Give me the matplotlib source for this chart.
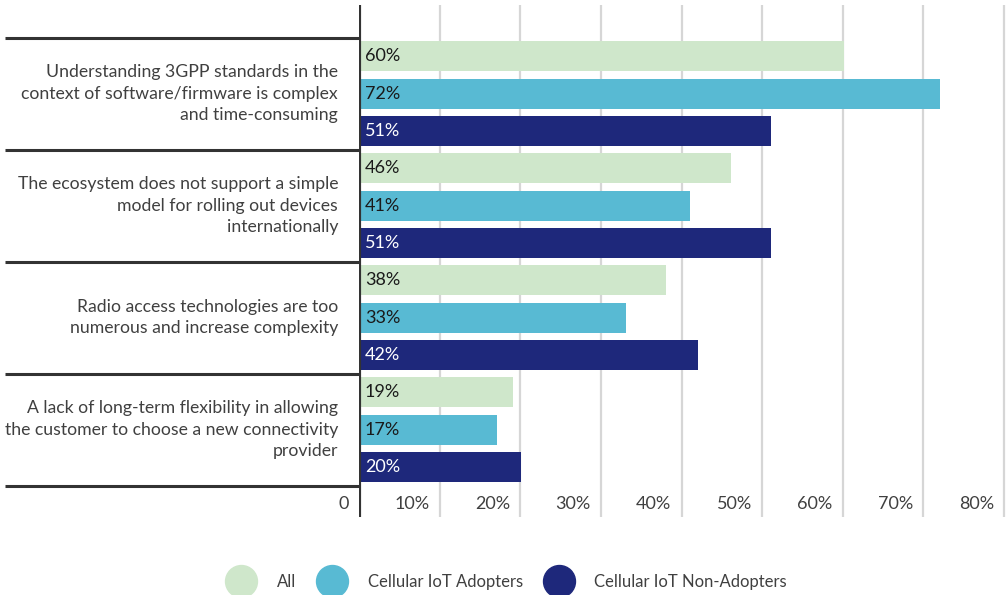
import matplotlib.pyplot as plt
from matplotlib.lines import Line2D
from matplotlib.transforms import offset_copy

plt.rcParams['font.family'] = ['Lato', 'DejaVu Sans']

categories = [
    'Understanding 3GPP standards in the\ncontext of software/firmware is complex\nand time-consuming',
    'The ecosystem does not support a simple\nmodel for rolling out devices\ninternationally',
    'Radio access technologies are too\nnumerous and increase complexity',
    'A lack of long-term flexibility in allowing\nthe customer to choose a new connectivity\nprovider',
]
series_names = ['All', 'Cellular IoT Adopters', 'Cellular IoT Non-Adopters']
all_vals = [60, 46, 38, 19]
adopters = [72, 41, 33, 17]
non_adopters = [51, 51, 42, 20]
xticks = [0, 10, 20, 30, 40, 50, 60, 70, 80]
xtick_labels = ['0', '10%', '20%', '30%', '40%', '50%', '60%', '70%', '80%']

colors = ['#cfe7cb', '#58bad3', '#1e287b']
label_colors = ['#1a1a1a', '#1a1a1a', '#ffffff']
text_gray = '#404040'

W, H = 1007, 595
fig = plt.figure(figsize=(W / 100, H / 100), dpi=100)
ax = fig.add_axes([359 / W, 1 - 517 / H, (1004 - 359) / W, (517 - 5) / H])

n = len(categories)
ax.set_xlim(0, 80)
ax.set_ylim(3 * n + 0.34, -1.375)

# light vertical gridlines behind bars
ax.vlines(xticks[1:], -1.375, 3 * n + 0.34, color='#d6d6d6', lw=1.6, zorder=0, clip_on=False)

for j, vals in enumerate([all_vals, adopters, non_adopters]):
    ys = [3 * i + j for i in range(n)]
    ax.barh(ys, vals, height=0.8, color=colors[j], zorder=2, left=0.1)
    for y, v in zip(ys, vals):
        ax.annotate(f'{v}%', (0, y), xytext=(6, 0), textcoords='offset pixels',
                    ha='left', va='center', fontsize=13, color=label_colors[j], zorder=3)

# group separators to the left of the axis
ax.hlines([3 * i - 0.5 for i in range(n + 1)], -354 / 645, 0,
          transform=ax.get_yaxis_transform(), color='#333333', lw=2.2, clip_on=False)
ax.axvline(0, color='#333333', lw=3, zorder=4)

for i, cat in enumerate(categories):
    ax.text(-21 / 645, 3 * i + 1, cat, transform=ax.get_yaxis_transform(),
            ha='right', va='center', fontsize=12.7, color=text_gray, linespacing=1.42)

tick_tr = offset_copy(ax.transData, fig=fig, x=-10, y=0, units='dots')
for t, lab in zip(xticks, xtick_labels):
    ax.text(t, 3 * n, lab, transform=tick_tr, ha='right', va='center',
            fontsize=13, color=text_gray)

for s in ax.spines.values():
    s.set_visible(False)
ax.set_xticks([])
ax.set_yticks([])

handles = [Line2D([], [], marker='o', ls='', markersize=23, color=c) for c in colors]
fig.legend(handles, series_names, loc='center', bbox_to_anchor=(506 / W, 1 - 582 / H),
           ncol=3, frameon=False, fontsize=12, handlelength=1.9, handletextpad=1.2,
           columnspacing=1.2, borderpad=0, labelcolor=text_gray)

fig.savefig('out.png', dpi=100)
